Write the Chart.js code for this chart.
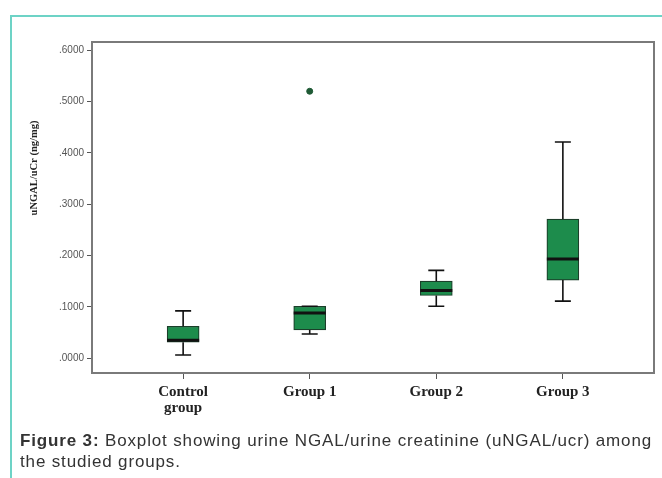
<!DOCTYPE html>
<html><head><meta charset="utf-8">
<script src="https://cdn.jsdelivr.net/npm/chart.js@4.4.1/dist/chart.umd.min.js"></script>
<style>
html,body{margin:0;padding:0;background:#fff;}
#wrap{position:relative;width:662px;height:478px;overflow:hidden;}
#frameTop{position:absolute;left:10px;top:15px;width:660px;height:0;border-top:2px solid #6dd3c6;}
#frameLeft{position:absolute;left:10px;top:15px;width:0;height:470px;border-left:2px solid #6dd3c6;}
canvas{position:absolute;left:0;top:0;}
#cap{position:absolute;left:20px;top:430px;width:640px;font-family:"Liberation Sans",Arial,sans-serif;font-size:17px;letter-spacing:0.85px;line-height:21px;color:#333;white-space:nowrap;}
</style></head><body>
<div id="wrap">
<canvas id="c" width="662" height="478"></canvas>
<div id="frameTop"></div><div id="frameLeft"></div>
<div id="cap"><b>Figure 3:</b> Boxplot showing urine NGAL/urine creatinine (uNGAL/ucr) among<br>the studied groups.</div>
</div>
<script>
const categories = [["Control","group"],["Group 1"],["Group 2"],["Group 3"]];
const whiskerLow  = [0.006, 0.047, 0.101, 0.111];
const q1          = [0.031, 0.055, 0.122, 0.152];
const median      = [0.035, 0.088, 0.132, 0.193];
const q3          = [0.062, 0.101, 0.150, 0.271];
const whiskerHigh = [0.092, 0.101, 0.171, 0.421];
const outliers    = [{group:1, value:0.52}];
const yTicks      = [0, 0.1, 0.2, 0.3, 0.4, 0.5, 0.6];
const yTitle      = 'uNGAL/uCr (ng/mg)';

const boxData = categories.map((c,i)=>({x:i, y:[q1[i], q3[i]]}));
const outlierData = outliers.map(o=>({x:o.group, y:o.value}));

const boxPlugin = {
  id:'boxparts',
  afterDatasetsDraw(chart){
    const {ctx, scales:{x,y}} = chart;
    ctx.save();
    ctx.strokeStyle = '#111';
    for(let i=0;i<categories.length;i++){
      const cx = x.getPixelForValue(i);
      const half = 8;
      ctx.lineWidth = 1.6;
      ctx.beginPath();
      ctx.moveTo(cx, y.getPixelForValue(q1[i])); ctx.lineTo(cx, y.getPixelForValue(whiskerLow[i]));
      ctx.moveTo(cx-half, y.getPixelForValue(whiskerLow[i])); ctx.lineTo(cx+half, y.getPixelForValue(whiskerLow[i]));
      ctx.moveTo(cx, y.getPixelForValue(q3[i])); ctx.lineTo(cx, y.getPixelForValue(whiskerHigh[i]));
      ctx.moveTo(cx-half, y.getPixelForValue(whiskerHigh[i])); ctx.lineTo(cx+half, y.getPixelForValue(whiskerHigh[i]));
      ctx.stroke();
      ctx.lineWidth = 3;
      ctx.beginPath();
      ctx.moveTo(cx-16, y.getPixelForValue(median[i])); ctx.lineTo(cx+16, y.getPixelForValue(median[i]));
      ctx.stroke();
    }
    ctx.restore();
  },
  afterDraw(chart){
    const {ctx, chartArea:a} = chart;
    ctx.save();
    ctx.strokeStyle = '#7a7a7a';
    ctx.lineWidth = 2;
    ctx.strokeRect(a.left, a.top, a.right-a.left, a.bottom-a.top);
    ctx.translate(34, 168);
    ctx.rotate(-Math.PI/2);
    ctx.fillStyle = '#222';
    ctx.font = 'bold 10.5px "Liberation Serif","Times New Roman",serif';
    ctx.textAlign = 'center';
    ctx.textBaseline = 'middle';
    ctx.fillText(yTitle, 0, 0);
    ctx.restore();
  }
};

new Chart(document.getElementById('c'), {
  data:{
    datasets:[
      {type:'bar', data:boxData, backgroundColor:'#1d8c4c', borderColor:'#1b3f2a', borderWidth:1.2, borderSkipped:false, barThickness:32},
      {type:'scatter', data:outlierData, pointRadius:3, pointBackgroundColor:'#1f5a35', pointBorderColor:'#1f5a35'}
    ]
  },
  options:{
    responsive:false, animation:false,
    layout:{padding:{top:42, right:8, left:0, bottom:0}},
    plugins:{legend:{display:false}, tooltip:{enabled:false}},
    scales:{
      x:{type:'linear', min:-0.72, max:3.72, offset:false,
        afterBuildTicks(s){ s.ticks = categories.map((c,i)=>({value:i})); },
        afterFit(s){ s.height = 105; },
        ticks:{autoSkip:false, maxRotation:0, padding:5, color:'#222',
          font:{family:'"Liberation Serif","Times New Roman",serif', size:15, weight:'bold', lineHeight:1.05},
          callback:(v)=>categories[v]},
        grid:{display:true, offset:false, drawOnChartArea:false, drawTicks:true, tickLength:6, color:'#555', lineWidth:1},
        border:{display:false}
      },
      y:{type:'linear', min:-0.029, max:0.616,
        afterBuildTicks(s){ s.ticks = yTicks.map(v=>({value:v})); },
        afterFit(s){ s.width = 92; },
        ticks:{padding:3, color:'#555',
          font:{family:'"Liberation Sans",Arial,sans-serif', size:10},
          callback:(v)=>v.toFixed(4).replace(/^0/,'')},
        grid:{display:true, drawOnChartArea:false, drawTicks:true, tickLength:5, color:'#555', lineWidth:1},
        border:{display:false},
        title:{display:false}
      }
    }
  },
  plugins:[boxPlugin]
});
</script>
</body></html>
